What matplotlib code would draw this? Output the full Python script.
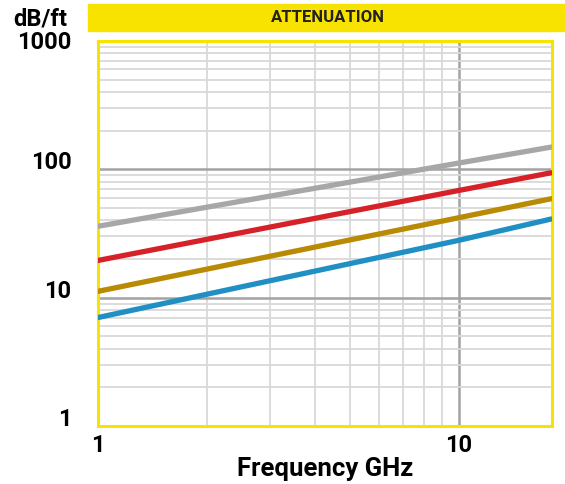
import matplotlib
matplotlib.use("Agg")
import matplotlib.pyplot as plt
from matplotlib.patches import Rectangle
from matplotlib.transforms import ScaledTranslation
from matplotlib.ticker import FixedLocator, NullFormatter

plt.rcParams['font.family'] = ['Roboto', 'DejaVu Sans']

# frequency points (GHz) and attenuation (dB/ft)
freq = [1, 10, 18]
gray_line = [36, 112, 149]
red_line = [19.5, 68.5, 94]
gold_line = [11.2, 42, 59]
blue_line = [7.0, 28, 41]

series = [
    (gray_line, "#a7a7a7"),
    (red_line, "#d62128"),
    (gold_line, "#b98a04"),
    (blue_line, "#1f8fc4"),
]

yellow = "#f8e200"
fs = 17
wt = 600

fig = plt.figure(figsize=(5.65, 4.84), dpi=100)
ax = fig.add_axes([98 / 565, 58 / 484, 454 / 565, 385 / 484])

ax.set_xscale("log")
ax.set_yscale("log")
ax.set_xlim(1, 18.1)
ax.set_ylim(1, 1000)

# grid
ax.xaxis.set_minor_locator(FixedLocator([2, 3, 4, 5, 6, 7, 8, 9]))
ax.yaxis.set_minor_locator(FixedLocator([m * 10 ** e for e in range(0, 3) for m in range(2, 10)]))
ax.xaxis.set_minor_formatter(NullFormatter())
ax.yaxis.set_minor_formatter(NullFormatter())
ax.grid(which="minor", color="#d9d9d9", linewidth=1.3)
ax.grid(which="major", color="#a3a3a3", linewidth=1.8)
ax.set_axisbelow(True)

for vals, c in series:
    ax.plot(freq, vals, color=c, linewidth=3.8, solid_capstyle="round", zorder=3)

ax.set_xticks([1, 10])
ax.set_xticklabels(["1", "10"])
ax.set_yticks([1, 10, 100, 1000])
ax.set_yticklabels(["1", "10", "100", "1000"])
ax.tick_params(which="both", length=0, labelsize=fs)
ax.tick_params(axis="y", pad=19)
ax.tick_params(axis="x", pad=6)
for lab in ax.get_yticklabels():
    lab.set_ha("right")
    lab.set_va("baseline")
    lab.set_fontweight(wt)
    if lab.get_text() == "1000":
        # top label sits lower, inside the frame
        lab.set_transform(lab.get_transform() + ScaledTranslation(0, -8 / 100, fig.dpi_scale_trans))
for lab in ax.get_xticklabels():
    lab.set_fontweight(wt)

for s in ax.spines.values():
    s.set_color(yellow)
    s.set_linewidth(2.2)

ax.set_xlabel("Frequency GHz", fontsize=18.5, fontweight=wt, labelpad=0)

# header band
fig.patches.append(Rectangle((88 / 565, (484 - 31) / 484), 477 / 565, 27 / 484,
                             transform=fig.transFigure, color=yellow, zorder=0))
fig.text(328 / 565, (484 - 17.5) / 484, "ATTENUATION", ha="center", va="center",
         fontsize=12, fontweight="bold", color="#222222")
fig.text(40 / 565, (484 - 19) / 484, "dB/ft", ha="center", va="center",
         fontsize=fs, fontweight=wt)

fig.savefig("out.png", dpi=100)
